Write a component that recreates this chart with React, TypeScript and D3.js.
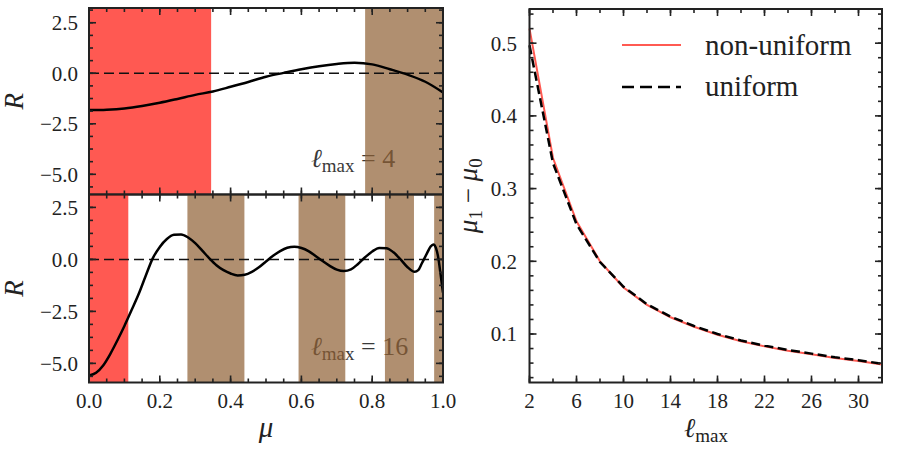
import * as d3 from "d3";

// top-left panel, l_max = 4
const mu4 = [0, 0.05, 0.1, 0.15, 0.2, 0.25, 0.3, 0.35, 0.4, 0.45, 0.5, 0.55, 0.6, 0.65, 0.7, 0.75, 0.8, 0.85, 0.9, 0.95, 1.0];
const r4 = [-1.82, -1.8, -1.74, -1.62, -1.46, -1.27, -1.07, -0.9, -0.67, -0.43, -0.17, 0.02, 0.2, 0.35, 0.46, 0.52, 0.44, 0.2, -0.07, -0.42, -0.95];
const red4: [number, number][] = [[0, 0.345]];
const brown4: [number, number][] = [[0.78, 1.0]];

// bottom-left panel, l_max = 16
const mu16 = [0, 0.02, 0.04, 0.06, 0.08, 0.1, 0.12, 0.14, 0.16, 0.18, 0.2, 0.22, 0.24, 0.26, 0.28, 0.3, 0.32, 0.34, 0.36, 0.38, 0.4, 0.42, 0.44, 0.46, 0.48, 0.5, 0.52, 0.54, 0.56, 0.58, 0.6, 0.62, 0.64, 0.66, 0.68, 0.7, 0.72, 0.74, 0.76, 0.78, 0.8, 0.82, 0.84, 0.86, 0.88, 0.9, 0.92, 0.93, 0.94, 0.955, 0.965, 0.973, 0.98, 0.987, 0.993, 1.0];
const r16 = [-5.58, -5.45, -5.1, -4.55, -3.9, -3.2, -2.45, -1.68, -0.8, 0.05, 0.6, 0.98, 1.18, 1.2, 1.05, 0.78, 0.42, 0.05, -0.28, -0.52, -0.68, -0.77, -0.74, -0.6, -0.38, -0.1, 0.17, 0.4, 0.56, 0.61, 0.55, 0.4, 0.16, -0.08, -0.31, -0.49, -0.56, -0.48, -0.22, 0.1, 0.38, 0.55, 0.54, 0.34, 0.0, -0.38, -0.6, -0.52, -0.2, 0.3, 0.62, 0.72, 0.55, 0.05, -0.7, -1.6];
const red16: [number, number][] = [[0, 0.111]];
const brown16: [number, number][] = [[0.278, 0.439], [0.592, 0.724], [0.836, 0.918], [0.975, 1.0]];

// right panel
const lmax = [2, 4, 6, 8, 10, 12, 14, 16, 18, 20, 22, 24, 26, 28, 30, 32];
const nonUniform = [0.52, 0.342, 0.255, 0.2, 0.164, 0.14, 0.123, 0.11, 0.099, 0.09, 0.083, 0.077, 0.072, 0.067, 0.063, 0.058];
const uniform = [0.497, 0.335, 0.251, 0.199, 0.165, 0.141, 0.124, 0.111, 0.1, 0.091, 0.084, 0.078, 0.073, 0.068, 0.064, 0.059];

const muTicks = [0, 0.2, 0.4, 0.6, 0.8, 1.0];
const rTicks = [-5, -2.5, 0, 2.5];
const lTicks = [2, 6, 10, 14, 18, 22, 26, 30];
const gapTicks = [0.1, 0.2, 0.3, 0.4, 0.5];

const SERIF = "Liberation Serif";
const INK = "#222";
const RED = "#ff5a52";
const RED_T = "#ff1308"; // at 0.7 opacity -> RED on white
const BROWN_T = "#8e6033"; // at 0.7 opacity -> #b0906e on white
const f1 = d3.format(".1f");

type Lin = d3.ScaleLinear<number, number>;

function Frame({ x, y, xMinor, yMinor, xMajor, yMajor }: { x: Lin; y: Lin; xMinor: number[]; yMinor: number[]; xMajor: number[]; yMajor: number[] }) {
  const [x0, x1] = x.range();
  const [yb, yt] = y.range();
  const segs: [number, number, number, number][] = [];
  const xt = (vals: number[], len: number) => vals.forEach((v) => {
    segs.push([x(v), yb, x(v), yb - len], [x(v), yt, x(v), yt + len]);
  });
  const yt2 = (vals: number[], len: number) => vals.forEach((v) => {
    segs.push([x0, y(v), x0 + len, y(v)], [x1, y(v), x1 - len, y(v)]);
  });
  xt(xMinor, 4); xt(xMajor, 7); yt2(yMinor, 4); yt2(yMajor, 7);
  return (
    <g stroke={INK}>
      {segs.map((s, i) => <line key={i} x1={s[0]} y1={s[1]} x2={s[2]} y2={s[3]} strokeWidth={1.6} />)}
      <rect x={x0} y={yt} width={x1 - x0} height={yb - yt} fill="none" strokeWidth={2} />
    </g>
  );
}

function LeftPanel({ id, top, bottom, dom, mu, r, reds, browns, lab, showX }: {
  id: string; top: number; bottom: number; dom: [number, number]; mu: number[]; r: number[];
  reds: [number, number][]; browns: [number, number][]; lab: string; showX: boolean;
}) {
  const x = d3.scaleLinear().domain([0, 1]).range([89, 443]);
  const y = d3.scaleLinear().domain(dom).range([bottom, top]);
  const line = d3.line<number>().x((_, i) => x(mu[i])).y((d) => y(d)).curve(d3.curveMonotoneX);
  const yMinor = d3.range(-5.625, dom[1], 0.625).filter((v) => v > dom[0]);
  return (
    <g>
      <clipPath id={id}><rect x={89} y={top} width={354} height={bottom - top} /></clipPath>
      {/* label sits under the translucent bands */}
      <text x={311} y={bottom - 27.5} fontFamily={SERIF} fontSize={26} fill="#3a3a3a">
        <tspan fontStyle="italic">ℓ</tspan>
        <tspan fontSize={19} dy={5}>max</tspan>
        <tspan dy={-5}>{` = ${lab}`}</tspan>
      </text>
      {reds.map(([a, b], i) => <rect key={"r" + i} x={x(a)} y={top} width={x(b) - x(a)} height={bottom - top} fill={RED_T} fillOpacity={0.7} />)}
      {browns.map(([a, b], i) => <rect key={"b" + i} x={x(a)} y={top} width={x(b) - x(a)} height={bottom - top} fill={BROWN_T} fillOpacity={0.7} />)}
      <line x1={x(0)} x2={x(1)} y1={y(0)} y2={y(0)} stroke="#111" strokeWidth={1.5} strokeDasharray="10,5" />
      <path d={line(r)!} fill="none" stroke="#000" strokeWidth={2.5} clipPath={`url(#${id})`} />
      <Frame x={x} y={y} xMinor={d3.range(0, 1.0001, 0.05)} yMinor={yMinor} xMajor={muTicks} yMajor={rTicks} />
      {rTicks.map((v) => (
        <text key={v} x={78} y={y(v)} dy="0.35em" textAnchor="end" fontFamily={SERIF} fontSize={21} fill={INK}>{f1(v)}</text>
      ))}
      {showX && muTicks.map((v) => (
        <text key={v} x={x(v)} y={408} textAnchor="middle" fontFamily={SERIF} fontSize={21} fill={INK}>{f1(v)}</text>
      ))}
      <text transform={`translate(23,${(top + bottom) / 2}) rotate(-90)`} textAnchor="middle" fontFamily={SERIF}
        fontSize={27} fontStyle="italic" fill={INK}>R</text>
    </g>
  );
}

function RightPanel() {
  const x = d3.scaleLinear().domain([2, 32]).range([529.5, 882]);
  const y = d3.scaleLinear().domain([0.0333, 0.547]).range([382.5, 9]);
  const line = d3.line<number>().x((_, i) => x(lmax[i])).y((d) => y(d));
  return (
    <g>
      <path d={line(nonUniform)!} fill="none" stroke={RED} strokeWidth={2} />
      <path d={line(uniform)!} fill="none" stroke="#000" strokeWidth={2.5} strokeDasharray="9,4.5" />
      <Frame x={x} y={y} xMinor={d3.range(2, 32.01, 2)} yMinor={d3.range(0.04, 0.541, 0.02)} xMajor={lTicks} yMajor={gapTicks} />
      {lTicks.map((v) => (
        <text key={v} x={x(v)} y={408} textAnchor="middle" fontFamily={SERIF} fontSize={21} fill={INK}>{v}</text>
      ))}
      {gapTicks.map((v) => (
        <text key={v} x={517} y={y(v)} dy="0.35em" textAnchor="end" fontFamily={SERIF} fontSize={21} fill={INK}>{f1(v)}</text>
      ))}
      <text x={706} y={437} textAnchor="middle" fontFamily={SERIF} fontSize={27} fill={INK}>
        <tspan fontStyle="italic">ℓ</tspan>
        <tspan fontSize={19} dy={5}>max</tspan>
      </text>
      <text transform={`translate(477,${(9 + 382.5) / 2}) rotate(-90)`} textAnchor="middle" fontFamily={SERIF} fontSize={27} fill={INK}>
        <tspan fontStyle="italic">μ</tspan>
        <tspan fontSize={19} dy={5}>1</tspan>
        <tspan dy={-5}>{" − "}</tspan>
        <tspan fontStyle="italic">μ</tspan>
        <tspan fontSize={19} dy={5}>0</tspan>
      </text>
      {/* legend */}
      <line x1={622} x2={681} y1={45} y2={45} stroke={RED} strokeWidth={2} />
      <line x1={622} x2={681} y1={87} y2={87} stroke="#000" strokeWidth={2.5} strokeDasharray="12,6" />
      <text x={705} y={55} fontFamily={SERIF} fontSize={29} fill={INK}>non-uniform</text>
      <text x={705} y={96} fontFamily={SERIF} fontSize={29} fill={INK}>uniform</text>
    </g>
  );
}

export default function App() {
  return (
    <svg width={900} height={450} style={{ position: "absolute", left: 0, top: 0, background: "#fff" }}>
      <LeftPanel id="c4" top={8} bottom={194.5} dom={[-6.0, 3.23]} mu={mu4} r={r4} reds={red4} browns={brown4} lab="4" showX={false} />
      <LeftPanel id="c16" top={194.5} bottom={382.5} dom={[-5.92, 3.12]} mu={mu16} r={r16} reds={red16} browns={brown16} lab="16" showX={true} />
      <text x={266} y={437} textAnchor="middle" fontFamily={SERIF} fontSize={29} fontStyle="italic" fill={INK}>μ</text>
      <RightPanel />
    </svg>
  );
}
